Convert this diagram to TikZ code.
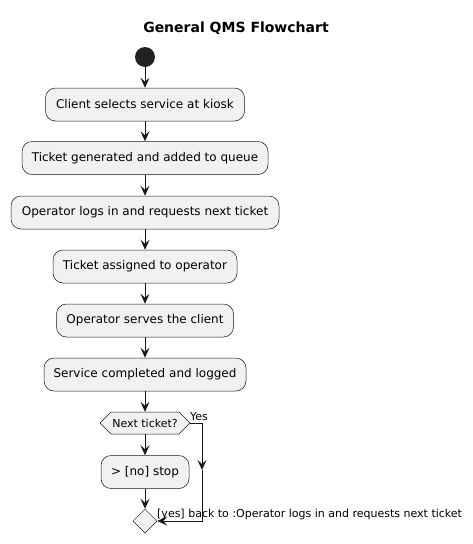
\documentclass[tikz,border=0pt]{standalone}
\usepackage{fontspec}
\setmainfont{DejaVu Sans}
\usetikzlibrary{arrows.meta,shapes.geometric}
\definecolor{ufill}{HTML}{F1F1F1}
\definecolor{uborder}{HTML}{181818}
\definecolor{uline}{HTML}{181818}
\definecolor{ustart}{HTML}{222222}
\begin{document}
\begin{tikzpicture}[x=1pt,y=-1pt,
  act/.style={draw=uborder, fill=ufill, rounded corners=10pt, line width=0.5pt,
    minimum height=33pt, inner sep=0pt, font=\fontsize{12}{14}\selectfont},
  flow/.style={draw=uline, line width=1pt, -{Stealth[length=10pt,width=9pt,inset=4pt]}},
  lbl/.style={inner sep=0pt, font=\fontsize{11}{13}\selectfont}]
\useasboundingbox (0,0) rectangle (473,544);
\node[font=\bfseries\fontsize{14}{16}\selectfont] (title) at (236,28) {General QMS Flowchart};
\node[circle, fill=ustart, minimum size=20pt, inner sep=0pt] (start) at (145,57) {};
\node[act, minimum width=199pt] (a1) at (145,104.5) {Client selects service at kiosk};
\node[act, minimum width=246pt] (a2) at (145,158) {Ticket generated and added to queue};
\node[act, minimum width=268pt] (a3) at (145,212.5) {Operator logs in and requests next ticket};
\node[act, minimum width=184pt] (a4) at (145,266.5) {Ticket assigned to operator};
\node[act, minimum width=177pt] (a5) at (145,320.5) {Operator serves the client};
\node[act, minimum width=202pt] (a6) at (145,374.5) {Service completed and logged};
\path[draw=uborder, fill=ufill, line width=0.5pt] (100,423) -- (111,412) -- (179,412) -- (190,423) -- (179,434) -- (111,434) -- cycle;
\node[lbl, minimum width=90pt, minimum height=22pt] (q) at (145,423) {Next ticket?};
\node[act, minimum width=88pt] (a7) at (145,472) {> [no] stop};
\node[diamond, draw=uborder, fill=ufill, line width=0.5pt, minimum size=24pt, inner sep=0pt] (m) at (145,521) {};
\coordinate (ymid) at (202,470);
\draw[flow] (start) -- (a1);
\draw[flow] (a1) -- (a2);
\draw[flow] (a2) -- (a3);
\draw[flow] (a3) -- (a4);
\draw[flow] (a4) -- (a5);
\draw[flow] (a5) -- (a6);
\draw[flow] (a6) -- (q);
\draw[flow] (q) -- (a7);
\draw[flow] (a7) -- (m);
\draw[flow] (q.east) -| (ymid);
\draw[flow] (ymid) |- (m.east);
\node[lbl, anchor=base west] (yes) at (190,420) {Yes};
\node[lbl, anchor=base west] (back) at (157,517) {[yes] back to :Operator logs in and requests next ticket};
\end{tikzpicture}
\end{document}
